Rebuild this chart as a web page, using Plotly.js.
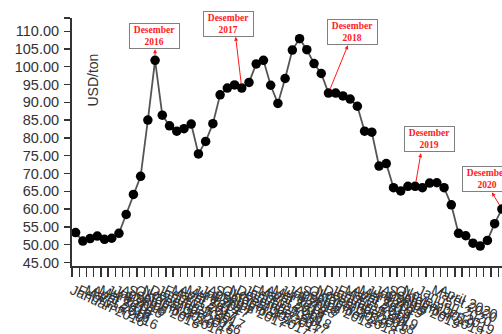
<!DOCTYPE html>
<html>
<head>
<meta charset="utf-8">
<script src="https://cdn.plot.ly/plotly-3.0.1.min.js"></script>
<style>
html,body{margin:0;padding:0;overflow:hidden;background:#fff;}
#chart{width:502px;height:334px;}
</style>
</head>
<body>
<div id="chart"></div>
<script>
// ---- data ----
var monthNames = ["Januari","Februari","Maret","April","Mei","Juni","Juli","Agustus","September","Oktober","November","Desember"];
var years = [2016, 2017, 2018, 2019, 2020];
var price2016 = [53.4, 51.0, 51.7, 52.4, 51.5, 51.8, 53.2, 58.5, 64.1, 69.2, 85.0, 101.8];
var price2017 = [86.4, 83.4, 81.9, 82.6, 83.9, 75.5, 79.0, 84.0, 92.1, 94.0, 94.9, 94.0];
var price2018 = [95.6, 100.8, 101.8, 94.8, 89.7, 96.7, 104.7, 107.9, 104.8, 100.9, 98.1, 92.6];
var price2019 = [92.6, 91.8, 90.9, 88.9, 81.9, 81.6, 72.1, 72.8, 66.0, 65.1, 66.4, 66.4];
var price2020 = [66.0, 67.3, 67.4, 66.0, 61.2, 53.2, 52.5, 50.4, 49.6, 51.2, 55.9, 60.0];
var yTickValues = [45, 50, 55, 60, 65, 70, 75, 80, 85, 90, 95, 100, 105, 110];
var yTickLabels = ["45.00","50.00","55.00","60.00","65.00","70.00","75.00","80.00","85.00","90.00","95.00","100.00","105.00","110.00"];
var noteIndex = [11, 23, 35, 47, 59];  // Desember of each year

// ---- build ----
var prices = [].concat(price2016, price2017, price2018, price2019, price2020);
var idx = [], labels = [], tickPos = [];
years.forEach(function(yr, yi){
  monthNames.forEach(function(m, mi){
    var i = yi*12 + mi;
    idx.push(i);
    tickPos.push(i - 0.5);
    labels.push(m + " " + yr);
  });
});

var trace = {
  x: idx, y: prices, type: "scatter", mode: "lines+markers",
  line: {color: "#555555", width: 1.8},
  marker: {color: "#000000", size: 9.5},
  cliponaxis: true, hoverinfo: "skip"
};

// box centres / arrow heads (layout positions)
var boxPos = [[10.92,108.73],[21.22,112.0],[38.31,109.86],[49.04,79.56],[56.99,68.55]];
var headPos = [[11.0,104.9],[22.15,108.4],[37.69,106.06],[47.79,75.67],[57.62,64.70]];

var annotations = [];
noteIndex.forEach(function(i, k){
  annotations.push({
    x: boxPos[k][0], y: boxPos[k][1], xref: "x", yref: "y",
    text: "<b>Desember<br>" + years[k] + "</b>", showarrow: false,
    font: {family: "Liberation Serif, Times New Roman, serif", size: 9.5, color: "#ff1a1a"},
    bgcolor: "#ffffff", bordercolor: "#808080", borderwidth: 1, borderpad: 2,
    width: 45, height: 20, align: "center"
  });
  annotations.push({
    x: headPos[k][0], y: headPos[k][1], xref: "x", yref: "y",
    ax: i, ay: prices[i], axref: "x", ayref: "y",
    text: "", showarrow: true, arrowhead: 2, arrowsize: 0.8, arrowwidth: 1,
    arrowcolor: "#ff1a1a", startstandoff: 3
  });
});
annotations.push({
  x: 0.0245, y: 0.865, xref: "paper", yref: "paper",
  text: "USD/ton", textangle: -90, showarrow: false,
  font: {family: "Liberation Sans, Arial, sans-serif", size: 14, color: "#333333"}
});

var layout = {
  width: 502, height: 334,
  margin: {l: 72, r: 0, t: 18, b: 68, pad: 0},
  paper_bgcolor: "#ffffff", plot_bgcolor: "#ffffff",
  showlegend: false,
  font: {family: "Liberation Sans, Arial, sans-serif", color: "#333333"},
  xaxis: {
    range: [-0.5, 59.02], showgrid: false, zeroline: false,
    showline: true, linecolor: "#333333", linewidth: 2,
    tickmode: "array", tickvals: tickPos, ticktext: labels,
    ticks: "outside", ticklen: 9, tickwidth: 1.3, tickcolor: "#333333",
    tickangle: 25, tickfont: {size: 14, color: "#333333"}, automargin: false
  },
  yaxis: {
    range: [44, 113.7], showgrid: false, zeroline: false,
    showline: true, linecolor: "#333333", linewidth: 2,
    tickmode: "array", tickvals: yTickValues.concat([113.7]), ticktext: yTickLabels.concat([""]),
    ticks: "outside", ticklen: 6, tickwidth: 1.3, tickcolor: "#333333",
    tickfont: {size: 14.5, color: "#333333"}, ticklabelstandoff: 2, automargin: false
  },
  annotations: annotations
};

Plotly.newPlot("chart", [trace], layout, {staticPlot: true, displayModeBar: false});
</script>
</body>
</html>
